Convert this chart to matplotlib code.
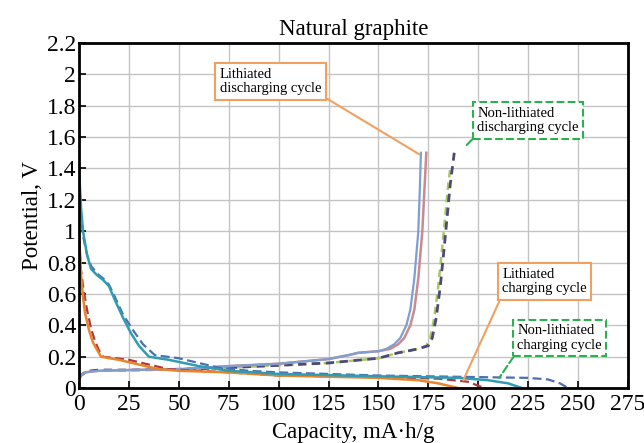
import numpy as np
import matplotlib
matplotlib.use('Agg')
from matplotlib import pyplot as plt

plt.rcParams['font.family'] = ['Liberation Serif', 'DejaVu Serif']

# lithiated charging (teal, solid)
teal_x = [0, 1, 2, 4, 6, 9, 12, 15, 18, 22, 26, 30, 35, 45, 60, 75, 100, 150, 190, 205, 215, 222]
teal_y = [1.4, 1.15, 1.0, 0.85, 0.76, 0.72, 0.69, 0.65, 0.56, 0.45, 0.35, 0.27, 0.2, 0.18, 0.14, 0.11, 0.09, 0.075, 0.065, 0.05, 0.03, 0.0]
# non-lithiated charging (blue, dashed)
blue_x = [0, 1, 2, 4, 6, 9, 12, 15, 18, 22, 27, 32, 38, 50, 60, 70, 85, 100, 150, 200, 225, 235, 241, 245]
blue_y = [1.3, 1.1, 0.97, 0.85, 0.78, 0.73, 0.7, 0.66, 0.58, 0.47, 0.37, 0.28, 0.21, 0.19, 0.16, 0.13, 0.11, 0.1, 0.08, 0.07, 0.065, 0.055, 0.03, 0.0]
# lithiated charging (orange, solid)
orange_x = [0, 0.5, 1, 2, 3, 5, 7, 11, 20, 30, 40, 50, 75, 100, 150, 170, 180, 190]
orange_y = [1.0, 0.85, 0.72, 0.58, 0.48, 0.37, 0.29, 0.2, 0.18, 0.15, 0.12, 0.11, 0.1, 0.08, 0.065, 0.05, 0.03, 0.0]
# non-lithiated charging (dark red, dashed)
red_x = [0, 0.5, 1, 2, 4, 6, 8, 10, 12, 25, 35, 45, 75, 100, 150, 180, 195, 203]
red_y = [0.95, 0.85, 0.75, 0.65, 0.5, 0.38, 0.3, 0.24, 0.2, 0.18, 0.15, 0.12, 0.1, 0.08, 0.07, 0.06, 0.04, 0.0]
# lithiated discharging (pink, solid)
pink_x = [0, 1, 3, 6, 10, 25, 50, 75, 100, 125, 135, 140, 150, 156, 160, 163, 166, 168, 170, 171, 172, 173, 174]
pink_y = [0.06, 0.08, 0.1, 0.105, 0.11, 0.115, 0.12, 0.14, 0.155, 0.185, 0.21, 0.225, 0.235, 0.25, 0.28, 0.32, 0.4, 0.5, 0.7, 0.85, 1.0, 1.25, 1.5]
# lithiated discharging (light blue, solid)
lblue_x = [0, 1, 3, 6, 10, 25, 50, 75, 100, 125, 135, 140, 150, 154, 158, 161, 164, 166, 168, 169, 170, 170.7, 171.3]
lblue_y = [0.06, 0.08, 0.1, 0.105, 0.11, 0.115, 0.12, 0.14, 0.155, 0.185, 0.21, 0.225, 0.235, 0.25, 0.28, 0.32, 0.4, 0.5, 0.7, 0.85, 1.0, 1.25, 1.5]
# non-lithiated discharging (dark purple, dashed)
purple_x = [0, 1, 3, 6, 10, 25, 50, 75, 100, 125, 150, 160, 170, 175, 177, 179, 181, 183, 184.5, 186, 187, 188]
purple_y = [0.06, 0.08, 0.1, 0.11, 0.115, 0.115, 0.12, 0.13, 0.145, 0.16, 0.19, 0.225, 0.25, 0.27, 0.32, 0.45, 0.65, 0.9, 1.1, 1.3, 1.4, 1.5]
# non-lithiated discharging (green, dashed)
green_x = [60, 75, 100, 125, 150, 160, 170, 174, 176, 178, 180, 182, 183.5, 185, 186]
green_y = [0.12, 0.13, 0.145, 0.16, 0.19, 0.225, 0.25, 0.27, 0.32, 0.45, 0.65, 0.9, 1.1, 1.3, 1.4]

x_ticks = np.arange(0, 276, 25)
y_ticks = [0, 0.2, 0.4, 0.6, 0.8, 1, 1.2, 1.4, 1.6, 1.8, 2, 2.2]
y_labels = ['0', '0.2', '0.4', '0.6', '0.8', '1', '1.2', '1.4', '1.6', '1.8', '2', '2.2']

fig = plt.figure(figsize=(6.44, 4.43), dpi=100)
ax = fig.add_axes([0.1227, 0.124, 0.8523, 0.779])

ax.plot(green_x, green_y, color='#a8c860', lw=1.8, ls=(0, (3, 2)))
ax.plot(purple_x, purple_y, color='#4b4a78', lw=2.0, ls=(0, (3, 2)))
ax.plot(pink_x, pink_y, color='#c98a90', lw=1.8)
ax.plot(lblue_x, lblue_y, color='#7f9ed2', lw=1.6)
ax.plot(red_x, red_y, color='#b0383c', lw=1.6, ls=(0, (4, 2)))
ax.plot(orange_x, orange_y, color='#e8842c', lw=1.8)
ax.plot(blue_x, blue_y, color='#4a70b2', lw=1.6, ls=(0, (4, 2)))
ax.plot(teal_x, teal_y, color='#2f9cb4', lw=1.8)

ax.set_xlim(0, 275)
ax.set_ylim(0, 2.2)
ax.set_xticks(x_ticks)
ax.set_yticks(y_ticks)
ax.set_yticklabels(y_labels)
ax.grid(True, color='#c4c4c4', lw=1.0)
ax.set_axisbelow(True)
ax.tick_params(direction='in', length=5, width=1.2, labelsize=17)
ax.tick_params(axis='x', pad=4)
ax.tick_params(axis='y', pad=2)
for sp in ax.spines.values():
    sp.set_linewidth(2)
ax.set_xlabel('Capacity, mA·h/g', fontsize=16.5, labelpad=5)
ax.set_ylabel('Potential, V', fontsize=16.5, labelpad=3)
ax.set_title('Natural graphite', fontsize=16.5, pad=6)

solid_box = dict(boxstyle='square,pad=0.3', fc='white', ec='#f0a060', lw=1.5)
dash_box = dict(boxstyle='square,pad=0.3', fc='white', ec='#2ab050', lw=1.5, ls='--')

ax.annotate('Lithiated\ndischarging cycle', xy=(170.5, 1.49), xytext=(70.5, 1.955),
            fontsize=10.5, va='center', ha='left', linespacing=1.15, bbox=solid_box,
            arrowprops=dict(arrowstyle='-', color='#f0a060', lw=1.5, shrinkA=0, shrinkB=0,
                            relpos=(1.0, 0.0)))
ax.annotate('Non-lithiated\ndischarging cycle', xy=(193.5, 1.54), xytext=(199.5, 1.705),
            fontsize=10.5, va='center', ha='left', linespacing=1.15, bbox=dash_box,
            arrowprops=dict(arrowstyle='-', color='#2ab050', lw=1.5, ls='--', shrinkA=0, shrinkB=0,
                            relpos=(0.0, 0.0)))
ax.annotate('Lithiated\ncharging cycle', xy=(192.5, 0.05), xytext=(212, 0.68),
            fontsize=10.5, va='center', ha='left', linespacing=1.15, bbox=solid_box,
            arrowprops=dict(arrowstyle='-', color='#f0a060', lw=1.5, shrinkA=0, shrinkB=0,
                            relpos=(0.0, 0.0)))
ax.annotate('Non-lithiated\ncharging cycle', xy=(210.5, 0.065), xytext=(219.5, 0.32),
            fontsize=10.5, va='center', ha='left', linespacing=1.15, bbox=dash_box,
            arrowprops=dict(arrowstyle='-', color='#2ab050', lw=1.5, ls='--', shrinkA=0, shrinkB=0,
                            relpos=(0.0, 0.0)))

fig.savefig('out.png', dpi=100)
